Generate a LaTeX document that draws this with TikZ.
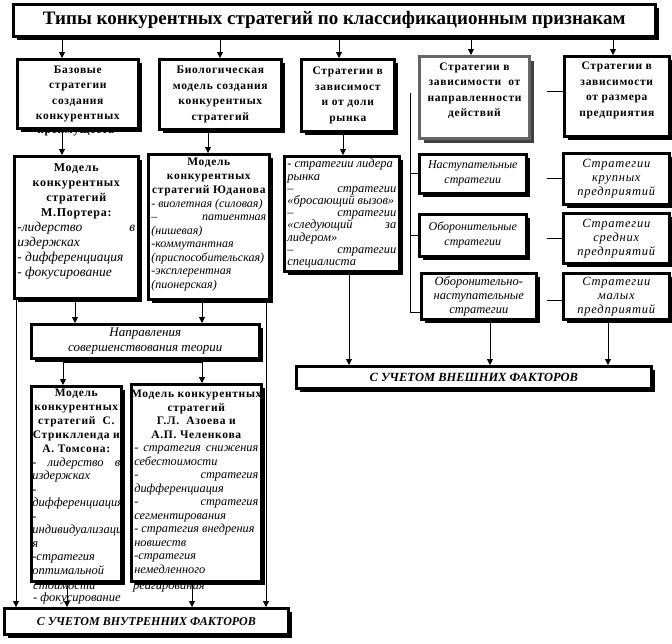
\documentclass[tikz,border=0pt]{standalone}
\usepackage{fontspec}
\setmainfont{Liberation Serif}
\newfontfamily\hdfont[LetterSpace=6]{Liberation Serif}
\newfontfamily\itsp[LetterSpace=6]{Liberation Serif}
\usetikzlibrary{arrows.meta,shadows}
\newcommand{\bx}[4]{\parbox[c][\dimexpr#3pt-6pt\relax][#1]{\dimexpr#2pt-6pt\relax}{#4}}
\newcommand{\jf}{\hskip 0pt plus 1filll\relax}
\newcommand{\cl}[1]{\leavevmode\hbox to\linewidth{\hss#1\hss}}
\newcommand{\hd}[2]{\centering\hdfont\bfseries\fontsize{#1}{#2}\selectfont}
\newcommand{\lsf}[2]{\par\raggedright\normalfont\itshape\fontsize{#1}{#2}\selectfont}
\newcommand{\ctf}[2]{\centering\itshape\fontsize{#1}{#2}\selectfont}
\begin{document}
\begin{tikzpicture}[x=1pt,y=-1pt,
  box/.style={draw=black, line width=2.6pt, fill=white, inner sep=3pt, anchor=north west,
    drop shadow={opacity=1, fill=black, shadow xshift=4pt, shadow yshift=-4pt}},
  graybox/.style={draw=black!60, line width=3pt, fill=white, inner sep=3pt, anchor=north west,
    drop shadow={opacity=1, fill=black!75, shadow xshift=4pt, shadow yshift=-4pt}},
  arr/.style={-{Triangle[length=6pt,width=6pt]}, line width=0.8pt},
  ln/.style={line width=0.8pt},
  ovf/.style={inner sep=0pt, anchor=north west, align=left, font=\itshape\fontsize{12.5}{12}\selectfont}]
\useasboundingbox (0,0) rectangle (672,643);

% title
\node[box] (T) at (12,3) {\bx{c}{642}{32}{\centering\bfseries\fontsize{19}{22}\selectfont Типы конкурентных стратегий по классификационным признакам}};

% row 1
\node[inner sep=0pt] (Atail) at (76,132.5) {\hdfont\bfseries\fontsize{11.5}{15}\selectfont преимуществ};
\node[box] (A) at (16,58) {\bx{c}{121}{69}{\hd{11.5}{15.5}Базовые\\стратегии\\создания\\конкурентных}};
\node[box] (B) at (158,58) {\bx{c}{122}{70}{\hd{11.5}{15.5}Биологическая\\модель создания\\конкурентных\\стратегий}};
\node[box] (C) at (300,58) {\bx{c}{93}{72}{\hd{11.5}{15.5}Стратегии в\\зависимост\\и от доли\\рынка}};
\node[graybox] (D) at (418,55) {\bx{t}{110}{82}{\vspace*{3pt}\hd{11.5}{15.5}Стратегии в\\зависимости~~от\\направленности\\действий}};
\node[box] (E) at (563,55) {\bx{t}{105}{80}{\vspace*{3pt}\hd{11.5}{15.5}Стратегии в\\зависимости\\от размера\\предприятия}};

% row 2
\node[box] (P) at (13,155) {\bx{t}{124}{142}{\vspace*{4pt}\hd{12}{15}Модель\\конкурентных\\стратегий\\М.Портера:
  \lsf{13.5}{15}-лидерство\jf в\\издержках\\- дифференциация\\- фокусирование}};
\node[box] (Y) at (147,153) {\bx{t}{121}{145}{\vspace*{1pt}\hd{11.5}{14}Модель\\конкурентных\\\cl{стратегий Юданова}
  \lsf{12}{13.5}- виолетная (силовая)\\–\jf патиентная\\(нишевая)\\-коммутантная\\(приспособительская)\\-эксплерентная\\(пионерская)}};
\node[box] (H) at (283,155) {\bx{t}{115}{115}{\lsf{12.5}{12.2}- стратегии лидера\\рынка\\–\jf стратегии\\«бросающий вызов»\\–\jf стратегии\\«следующий\jf за\\лидером»\\–\jf стратегии\\специалиста}};

% right part
\node[box] (F1) at (418,153) {\bx{c}{107}{39}{\ctf{12}{15}Наступательные\\стратегии}};
\node[box] (F2) at (418,213) {\bx{c}{107}{42}{\ctf{12}{15}Оборонительные\\стратегии}};
\node[box] (F3) at (420,272) {\bx{c}{115}{46}{\ctf{12.5}{14}Оборонительно-\\наступательные\\стратегии}};
\node[box] (G1) at (562,152) {\bx{c}{106}{51}{\centering\itsp\itshape\fontsize{12.5}{14}\selectfont Стратегии\\крупных\\предприятий}};
\node[box] (G2) at (562,212) {\bx{c}{106}{50}{\centering\itsp\itshape\fontsize{12.5}{14}\selectfont Стратегии\\средних\\предприятий}};
\node[box] (G3) at (562,272) {\bx{c}{106}{46}{\centering\itsp\itshape\fontsize{12.5}{14}\selectfont Стратегии\\малых\\предприятий}};

% directions
\node[box] (N) at (30,323) {\bx{c}{228}{34}{\ctf{13}{15}Направления\\совершенствования теории}};

% lower models
\node[ovf] (Stail) at (33,583) {стоимости\\- фокусирование};
\node[box, inner xsep=1pt] (S) at (30,385) {\parbox[c][189pt][t]{88pt}{\hd{11.5}{14}Модель\\\cl{конкурентных}\\стратегий~~С.\\\cl{Стриклленда и}\\А. Томсона:
  \lsf{12.5}{13.5}-\jf лидерство\jf в\\издержках\\-\\дифференциация\\-\\индивидуализаци\\я\\-стратегия\\оптимальной}};
\node[ovf] (Aztail) at (133,583) {реагирования};
\node[box] (Az) at (130,383) {\bx{t}{130}{197}{\vspace*{3pt}\hd{11.5}{13.5}\cl{Модель конкурентных}\\стратегий\\Г.Л.~~Азоева и\\А.П. Челенкова
  \lsf{12.3}{13.5}-\jf стратегия\jf снижения\\себестоимости\\-\jf стратегия\\дифференциация\\-\jf стратегия\\сегментирования\\- стратегия внедрения\\новшеств\\-стратегия\\немедленного}};

% factor boxes
\node[box] (I) at (3,607) {\bx{c}{284}{26}{\centering\bfseries\itshape\fontsize{12}{14}\selectfont С УЧЕТОМ ВНУТРЕННИХ ФАКТОРОВ}};
\node[box] (X) at (295,365) {\bx{c}{355}{22}{\centering\bfseries\itshape\fontsize{12.5}{14}\selectfont С УЧЕТОМ ВНЕШНИХ ФАКТОРОВ}};

% connectors from title
\draw[arr] (T.south -| 62,0) -- (A.north -| 62,0);
\draw[arr] (T.south -| 220,0) -- (B.north -| 220,0);
\draw[arr] (T.south -| 339,0) -- (C.north -| 339,0);
\draw[arr] (T.south -| 471,0) -- (D.north -| 471,0);
\draw[arr] (T.south -| 613,0) -- (E.north -| 613,0);

% row1 to row2
\draw[arr] (A.south -| 62,0) -- (P.north -| 62,0);
\draw[arr] (B.south -| 208,0) -- (Y.north -| 208,0);
\draw[arr] (C.south -| 343,0) -- (H.north -| 343,0);

% to directions
\draw[arr] (P.south -| 75,0) -- (N.north -| 75,0);
\draw[arr] (Y.south -| 202,0) -- (N.north -| 202,0);
\coordinate (nj) at (127,362);
\draw[ln] (N.south -| nj) -- (nj);
\draw[arr] (nj) -| (S.north -| 63,0);
\draw[arr] (nj) -| (Az.north -| 202,0);

% to internal factors
\draw[arr] (P.south -| 16,0) -- (I.north -| 16,0);
\draw[arr] (S.south -| 67,0) -- (I.north -| 67,0);
\draw[arr] (Az.south -| 192,0) -- (I.north -| 192,0);
\draw[arr] (Y.south -| 266,0) -- (I.north -| 266,0);

% to external factors
\draw[arr] (H.south -| 349,0) -- (X.north -| 349,0);
\draw[arr] (F3.south -| 490,0) -- (X.north -| 490,0);
\draw[arr] (G3.south -| 608,0) -- (X.north -| 608,0);

% D branch
\coordinate (dtop) at (410,93);
\draw[ln] (dtop) |- (F3.west |- 0,312);
\draw[ln] (dtop |- F1.west) -- (F1.west);
\draw[ln] (dtop |- F2.west) -- (F2.west);

% E stubs
\coordinate (es) at (547,91);
\draw[ln] (es) -- (E.west |- es);
\draw[ln] (es |- G1.west) -- (G1.west);
\draw[ln] (es |- G2.west) -- (G2.west);
\draw[ln] (es |- 0,300) -- (G3.west |- 0,300);
\end{tikzpicture}
\end{document}
